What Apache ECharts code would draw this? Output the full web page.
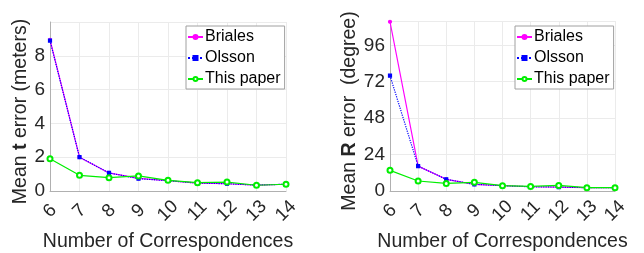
<!DOCTYPE html>
<html>
<head>
    <meta charset="utf-8">
    <title>Mean error vs number of correspondences</title>
    <script src="https://cdn.jsdelivr.net/npm/echarts@6.0.0/dist/echarts.min.js"></script>
    <style>
        html, body { margin: 0; padding: 0; background: #fff; }
        #main { width: 644px; height: 253px; }
    </style>
</head>
<body>
    <div id="main"></div>
    <script>
        var myChart = echarts.init(document.getElementById('main'));

        // data
        const correspondences = ['6', '7', '8', '9', '10', '11', '12', '13', '14'];
        const seriesNames = ['Briales', 'Olsson', 'This paper'];

        // translation error (meters)
        const tBriales = [8.95, 2.0, 1.07, 0.75, 0.61, 0.47, 0.43, 0.35, 0.4];
        const tOlsson  = [8.9, 2.0, 1.07, 0.73, 0.61, 0.47, 0.43, 0.35, 0.4];
        const tPaper   = [1.91, 0.93, 0.79, 0.89, 0.63, 0.49, 0.53, 0.34, 0.4];

        // rotation error (degree)
        const rBriales = [111.5, 16.4, 7.7, 4.4, 3.5, 2.8, 2.6, 2.2, 2.2];
        const rOlsson  = [76, 16.4, 7.7, 4.4, 3.5, 2.8, 2.6, 2.2, 2.2];
        const rPaper   = [13.6, 6.6, 5.0, 5.7, 3.5, 3.0, 3.7, 2.2, 2.2];

        const font = 'Liberation Sans, Arial, Helvetica, sans-serif';
        const txt = '#262626';
        const styles = [
            { color: '#ff00ff', type: 'solid', symbol: 'circle', size: 3 },
            { color: '#0000ff', type: 'dotted', symbol: 'rect', size: 3 },
            { color: '#00ee00', type: 'solid', symbol: 'emptyCircle', size: 5 }
        ];

        function makeSeries(values, i, axisIndex) {
            const s = styles[i];
            return {
                name: seriesNames[i],
                type: 'line',
                xAxisIndex: axisIndex,
                yAxisIndex: axisIndex,
                data: values,
                symbol: s.symbol,
                symbolSize: s.size,
                showAllSymbol: true,
                animation: false,
                lineStyle: { color: s.color, width: 1.2, type: s.type },
                itemStyle: { color: s.color, borderColor: s.color, borderWidth: 1.2 }
            };
        }

        function xAxisFor(gridIndex) {
            return {
                type: 'category',
                gridIndex: gridIndex,
                data: correspondences,
                boundaryGap: false,
                name: 'Number of Correspondences',
                nameLocation: 'middle',
                nameGap: 39,
                nameTextStyle: { fontFamily: font, fontSize: 19.5, color: txt },
                axisLine: { lineStyle: { color: '#b0b0b0' } },
                axisTick: { show: false },
                axisLabel: {
                    interval: 0, rotate: 45, align: 'center', verticalAlign: 'middle',
                    fontFamily: font, fontSize: 18.5, color: txt, margin: 20
                },
                splitLine: { show: true, interval: 0, lineStyle: { color: '#ebebeb' } }
            };
        }

        function yAxisFor(gridIndex, max, interval, bold, unit) {
            return {
                type: 'value',
                gridIndex: gridIndex,
                min: 0,
                max: max,
                interval: interval,
                name: '{a|Mean }{b|' + bold + '}{a| ' + unit + '}',
                nameLocation: 'middle',
                nameGap: 15,
                nameTextStyle: {
                    padding: [0, 10, 0, 0],
                    rich: {
                        a: { fontFamily: font, fontSize: 19.5, color: txt },
                        b: { fontFamily: font, fontSize: 19.5, color: txt, fontWeight: 'bold' }
                    }
                },
                axisLine: { show: true, lineStyle: { color: '#b0b0b0' } },
                axisTick: { show: false },
                axisLabel: { fontFamily: font, fontSize: 19, color: txt, margin: 5, showMaxLabel: false },
                splitLine: { show: true, lineStyle: { color: '#ebebeb' } }
            };
        }

        function legendFor(left) {
            return {
                orient: 'vertical',
                left: left,
                top: 26,
                data: seriesNames,
                itemWidth: 15,
                itemHeight: 5,
                itemGap: 5,
                padding: [3, 4, 2, 1],
                borderColor: '#a0a0a0',
                borderWidth: 1,
                backgroundColor: '#fff',
                textStyle: { fontFamily: font, fontSize: 16, color: '#000', padding: [0, 0, 0, -3] }
            };
        }

        const option = {
            animation: false,
            legend: [legendFor(186), legendFor(515)],
            grid: [
                { left: 50, top: 22, width: 236, height: 169, outerBoundsMode: 'none' },
                { left: 390, top: 21, width: 225, height: 170, outerBoundsMode: 'none' }
            ],
            xAxis: [xAxisFor(0), xAxisFor(1)],
            yAxis: [
                yAxisFor(0, 10, 2, 't', 'error (meters)'),
                yAxisFor(1, 112, 24, 'R', 'error  (degree)')
            ],
            series: [
                makeSeries(tBriales, 0, 0),
                makeSeries(tOlsson, 1, 0),
                makeSeries(tPaper, 2, 0),
                makeSeries(rBriales, 0, 1),
                makeSeries(rOlsson, 1, 1),
                makeSeries(rPaper, 2, 1)
            ]
        };

        myChart.setOption(option);
    </script>
</body>
</html>
